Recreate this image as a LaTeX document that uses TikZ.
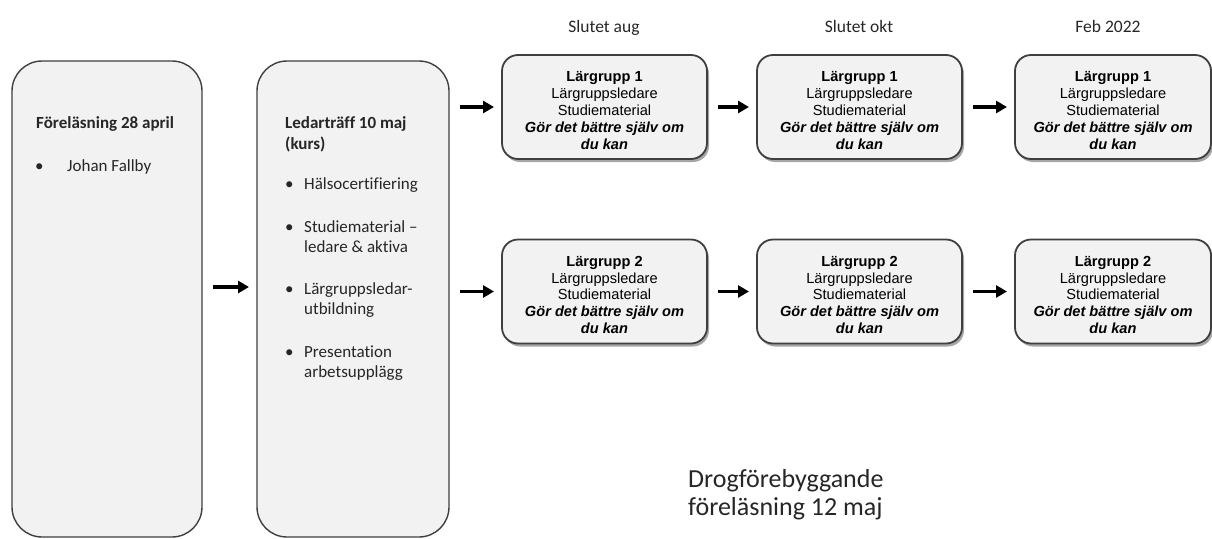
\documentclass[tikz,border=0pt]{standalone}
\usepackage{fontspec}
\setmainfont{Carlito}[Ligatures=NoCommon, Contextuals=NoAlternate]
\newfontfamily\arialfont{Liberation Sans}
\usetikzlibrary{arrows.meta,shadows}
\definecolor{boxfill}{HTML}{F2F2F2}
\definecolor{boxline}{HTML}{3F3F3F}
\definecolor{txt}{HTML}{262626}
\tikzset{
  bigbox/.style={draw=boxline, line width=1.4pt, fill=boxfill, rounded corners=30pt, outer sep=0pt, inner sep=0pt},
  grpbox/.style={draw=boxline, line width=1.8pt, fill=boxfill, rounded corners=16pt, outer sep=0pt,
    minimum height=104pt, inner sep=0pt, align=center, text=black,
    font=\arialfont\fontsize{14.6}{16.9}\selectfont,
    drop shadow={shadow xshift=2pt, shadow yshift=-3pt, fill=black, opacity=0.35}},
  ltext/.style={anchor=base west, inner sep=0pt, text=txt, font=\fontsize{17}{20.6}\selectfont},
  htext/.style={anchor=base, inner sep=0pt, text=txt, font=\fontsize{17.5}{20.6}\selectfont},
  dtext/.style={anchor=base west, inner sep=0pt, text=txt, font=\fontsize{26}{28}\selectfont},
  arr/.style={line width=3.5pt, -{Triangle[length=11pt,width=12pt]}, shorten <=11pt, shorten >=8pt}
}
\newcommand{\grptext}[1]{\rule{0pt}{17pt}\textbf{Lärgrupp #1}\\Lärgruppsledare\\Studiematerial\\\textbf{\textit{Gör det bättre själv om}}\\\textbf{\textit{du kan}}}
\begin{document}
\begin{tikzpicture}[x=1pt,y=-1pt]
\useasboundingbox (0,0) rectangle (1212,538);
% big boxes
\node[bigbox, minimum width=190pt, minimum height=476pt] (b1) at (107,299) {};
\node[bigbox, minimum width=192pt, minimum height=476pt] (b2) at (353,299) {};
% box 1 text
\node[ltext] (t1) at (36,128) {\textbf{Föreläsning 28 april}};
\node[ltext] (d1) at (35,171) {•};
\node[ltext] (i1) at (67,171) {Johan Fallby};
% box 2 text
\node[ltext] (t2a) at (285,128) {\textbf{Ledarträff 10 maj}};
\node[ltext] (t2b) at (285,149) {\textbf{(kurs)}};
\node[ltext] (d2) at (285,189) {•};
\node[ltext] (i2) at (304,189) {Hälsocertifiering};
\node[ltext] (d3) at (285,232) {•};
\node[ltext] (i3a) at (304,232) {Studiematerial –};
\node[ltext] (i3b) at (304,252.5) {ledare \& aktiva};
\node[ltext] (d4) at (285,294) {•};
\node[ltext] (i4a) at (304,294) {Lärgruppsledar-};
\node[ltext] (i4b) at (304,314.5) {utbildning};
\node[ltext] (d5) at (285,357) {•};
\node[ltext] (i5a) at (304,357) {Presentation};
\node[ltext] (i5b) at (304,377.5) {arbetsupplägg};
% headers
\node[htext] (h1) at (604,32) {Slutet aug};
\node[htext] (h2) at (859,32) {Slutet okt};
\node[htext] (h3) at (1108,32) {Feb 2022};
% group boxes
\node[grpbox, minimum width=205pt] (g11) at (604.5,107) {\grptext{1}};
\node[grpbox, minimum width=205pt] (g12) at (859.5,107) {\grptext{1}};
\node[grpbox, minimum width=196pt] (g13) at (1113,107) {\grptext{1}};
\node[grpbox, minimum width=205pt] (g21) at (604.5,291.5) {\grptext{2}};
\node[grpbox, minimum width=205pt] (g22) at (859.5,291.5) {\grptext{2}};
\node[grpbox, minimum width=196pt] (g23) at (1113,291.5) {\grptext{2}};
% arrows
\draw[arr] ([yshift=12pt]b1.east) -- ([yshift=12pt]b2.west);
\draw[arr] (b2.east |- g11.west) -- (g11.west);
\draw[arr] (b2.east |- g21.west) -- (g21.west);
\draw[arr] (g11.east) -- (g12.west);
\draw[arr] (g12.east) -- (g13.west);
\draw[arr] (g21.east) -- (g22.west);
\draw[arr] (g22.east) -- (g23.west);
% bottom text
\node[dtext] (dr1) at (688,487) {Drogförebyggande};
\node[dtext] (dr2) at (688,515) {föreläsning 12 maj};
\end{tikzpicture}
\end{document}
